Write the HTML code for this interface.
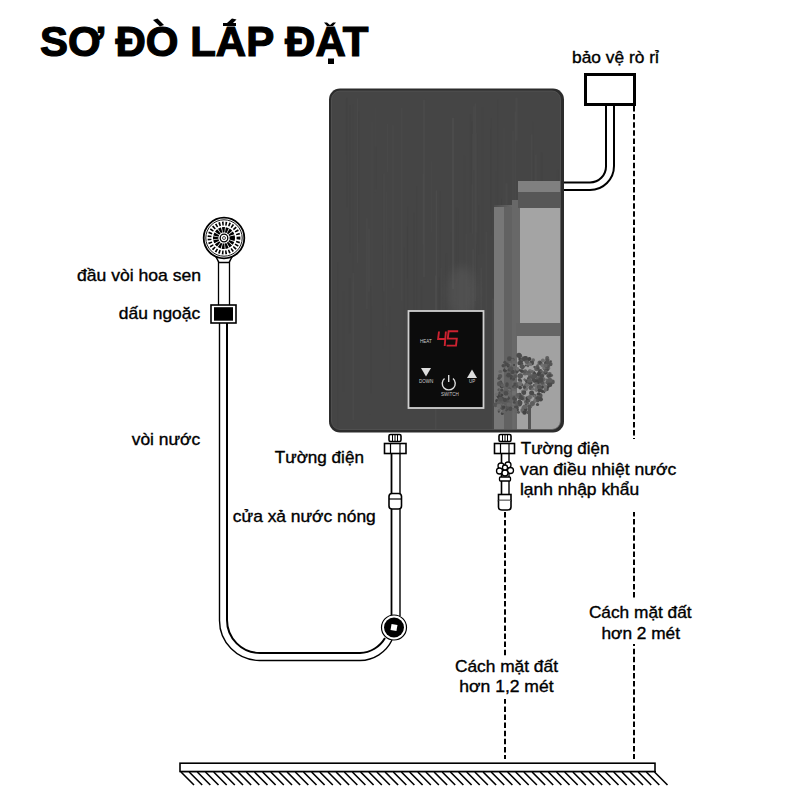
<!DOCTYPE html>
<html><head><meta charset="utf-8">
<style>
html,body{margin:0;padding:0;background:#fff;}
body{width:800px;height:800px;overflow:hidden;position:relative;}
svg{position:absolute;left:0;top:0;}
text{font-family:"Liberation Sans",sans-serif;}
</style></head>
<body>
<svg width="800" height="800" viewBox="0 0 800 800">
<defs>
  <linearGradient id="body" x1="0" y1="0" x2="1" y2="0">
    <stop offset="0" stop-color="#474747"/>
    <stop offset="0.5" stop-color="#4c4c4c"/>
    <stop offset="1" stop-color="#505050"/>
  </linearGradient>
  <clipPath id="hclip"><rect x="331.5" y="91" width="229" height="338.5" rx="8.5"/></clipPath>
  <linearGradient id="reflg" x1="0" y1="0" x2="1" y2="0">
    <stop offset="0" stop-color="#4a4a4a"/>
    <stop offset="0.3" stop-color="#6a6a6a"/>
    <stop offset="1" stop-color="#707070"/>
  </linearGradient>
  <linearGradient id="streakg" x1="0" y1="0" x2="0" y2="1">
    <stop offset="0" stop-color="#4a4a4a"/>
    <stop offset="1" stop-color="#7a7a7a"/>
  </linearGradient>
<filter id="blur4" x="-50%" y="-50%" width="200%" height="200%"><feGaussianBlur stdDeviation="5"/></filter>
</defs>

<!-- Title -->
<text x="40" y="56" font-size="42" font-weight="bold" fill="#000" stroke="#000" stroke-width="1.2">SƠ ĐO LAP ĐAT</text>
<g fill="#000">
<path d="M153 20 L157.5 18.5 L164 25 L160 26.5 Z"/>
<path d="M223 23 L236 23 L236 26 L223 26 Z"/><path d="M227 23 L232 18.5 L236.5 19.5 L232 24 Z"/>
<path d="M324 22.5 L327 22.5 L330 25 L333 22.5 L336 22.5 L333 26 L327 26 Z"/>
<rect x="328" y="58.5" width="6" height="5.5"/>
</g>

<!-- leakage protector -->
<text transform="translate(572,63) scale(1.085,1)" font-size="16" fill="#000" stroke="#000" stroke-width="0.35">bảo vệ rò rỉ</text>
<rect x="585.5" y="74.5" width="49" height="30" fill="#fff" stroke="#000" stroke-width="3"/>
<!-- cable from protector -->
<path d="M563 182.5 H590 A16 16 0 0 0 606 166.5 V106" fill="none" stroke="#000" stroke-width="2"/>
<path d="M563 190 H590 A24 24 0 0 0 614 166 V106" fill="none" stroke="#000" stroke-width="2"/>

<!-- dashed right line -->
<line x1="634" y1="106" x2="634" y2="759" stroke="#000" stroke-width="2" stroke-dasharray="5.5,2.6"/>
<!-- dashed left line -->
<line x1="505" y1="512" x2="505" y2="759" stroke="#000" stroke-width="2" stroke-dasharray="5.5,2.6"/>

<!-- heater body -->
<rect x="329" y="88.5" width="235" height="344" rx="11" fill="#2c2c2c"/>
<rect x="331.5" y="91" width="229" height="338.5" rx="8.5" fill="#454545"/>
<g clip-path="url(#hclip)">
  <rect x="406.5" y="226.7" width="0.8" height="51.6" fill="#3f3f3f" opacity="0.20"/><rect x="346.2" y="97.9" width="1.4" height="109.4" fill="#3f3f3f" opacity="0.18"/><rect x="458.1" y="208.7" width="0.7" height="191.6" fill="#3f3f3f" opacity="0.24"/><rect x="423.0" y="99.8" width="2.2" height="177.4" fill="#585858" opacity="0.21"/><rect x="455.7" y="207.7" width="1.5" height="149.1" fill="#3f3f3f" opacity="0.24"/><rect x="478.0" y="205.0" width="1.2" height="50.0" fill="#3f3f3f" opacity="0.25"/><rect x="445.7" y="253.2" width="1.5" height="114.5" fill="#424242" opacity="0.20"/><rect x="389.4" y="253.8" width="0.9" height="53.1" fill="#585858" opacity="0.23"/><rect x="531.7" y="150.5" width="1.8" height="196.8" fill="#3f3f3f" opacity="0.23"/><rect x="370.4" y="286.0" width="1.1" height="107.5" fill="#3f3f3f" opacity="0.27"/><rect x="463.1" y="155.9" width="2.0" height="151.2" fill="#424242" opacity="0.24"/><rect x="436.6" y="288.4" width="1.9" height="115.9" fill="#3f3f3f" opacity="0.14"/><rect x="492.2" y="298.6" width="1.6" height="171.5" fill="#585858" opacity="0.27"/><rect x="534.4" y="287.5" width="1.2" height="96.9" fill="#3f3f3f" opacity="0.23"/><rect x="382.5" y="245.1" width="1.1" height="103.7" fill="#424242" opacity="0.15"/><rect x="435.0" y="275.5" width="1.5" height="171.1" fill="#585858" opacity="0.26"/><rect x="556.9" y="169.9" width="1.7" height="76.9" fill="#3f3f3f" opacity="0.17"/><rect x="385.7" y="191.8" width="1.0" height="134.3" fill="#585858" opacity="0.18"/><rect x="366.1" y="218.1" width="1.5" height="91.0" fill="#555555" opacity="0.26"/><rect x="450.0" y="232.0" width="1.6" height="48.6" fill="#424242" opacity="0.21"/><rect x="422.5" y="174.1" width="1.4" height="70.5" fill="#555555" opacity="0.22"/><rect x="358.0" y="111.5" width="1.6" height="130.7" fill="#3f3f3f" opacity="0.31"/><rect x="472.3" y="133.7" width="0.7" height="100.2" fill="#585858" opacity="0.31"/><rect x="469.7" y="114.2" width="1.4" height="118.1" fill="#424242" opacity="0.22"/><rect x="403.8" y="247.4" width="0.8" height="158.5" fill="#424242" opacity="0.28"/><rect x="369.6" y="289.7" width="0.6" height="124.5" fill="#555555" opacity="0.26"/><rect x="540.5" y="152.6" width="1.8" height="142.9" fill="#3f3f3f" opacity="0.26"/><rect x="392.3" y="125.1" width="1.2" height="163.5" fill="#585858" opacity="0.25"/><rect x="472.2" y="249.2" width="1.9" height="71.2" fill="#555555" opacity="0.28"/><rect x="501.0" y="198.7" width="1.0" height="96.9" fill="#3f3f3f" opacity="0.32"/><rect x="512.4" y="130.7" width="1.4" height="136.8" fill="#585858" opacity="0.22"/><rect x="545.7" y="290.6" width="2.2" height="98.3" fill="#555555" opacity="0.15"/><rect x="439.7" y="191.4" width="1.1" height="197.6" fill="#3f3f3f" opacity="0.22"/><rect x="481.2" y="107.8" width="1.9" height="145.7" fill="#424242" opacity="0.27"/><rect x="503.3" y="127.5" width="1.4" height="166.3" fill="#585858" opacity="0.15"/><rect x="547.8" y="187.3" width="1.8" height="158.9" fill="#3f3f3f" opacity="0.27"/><rect x="371.6" y="121.7" width="0.8" height="184.8" fill="#555555" opacity="0.24"/><rect x="468.3" y="286.9" width="1.4" height="64.9" fill="#555555" opacity="0.14"/><rect x="514.5" y="111.6" width="1.8" height="159.9" fill="#555555" opacity="0.21"/><rect x="530.9" y="134.3" width="1.9" height="80.3" fill="#585858" opacity="0.23"/><rect x="506.4" y="204.3" width="1.1" height="173.5" fill="#3f3f3f" opacity="0.30"/><rect x="413.3" y="212.5" width="1.3" height="184.7" fill="#424242" opacity="0.28"/><rect x="532.3" y="121.9" width="0.8" height="121.7" fill="#424242" opacity="0.27"/><rect x="471.1" y="121.5" width="1.8" height="62.6" fill="#3f3f3f" opacity="0.23"/><rect x="407.0" y="206.6" width="1.4" height="165.5" fill="#3f3f3f" opacity="0.29"/><rect x="345.9" y="98.9" width="0.9" height="55.6" fill="#424242" opacity="0.23"/><rect x="505.5" y="183.1" width="2.1" height="138.0" fill="#555555" opacity="0.26"/><rect x="435.7" y="190.4" width="1.5" height="190.6" fill="#585858" opacity="0.30"/><rect x="535.7" y="184.0" width="0.9" height="106.7" fill="#424242" opacity="0.22"/><rect x="349.5" y="105.4" width="1.0" height="147.1" fill="#3f3f3f" opacity="0.30"/><rect x="368.1" y="228.7" width="1.7" height="62.9" fill="#555555" opacity="0.31"/><rect x="382.8" y="173.6" width="2.1" height="118.0" fill="#555555" opacity="0.16"/><rect x="431.0" y="161.2" width="1.4" height="71.3" fill="#585858" opacity="0.15"/><rect x="416.1" y="186.3" width="1.1" height="152.5" fill="#424242" opacity="0.19"/><rect x="474.6" y="103.5" width="1.4" height="197.6" fill="#555555" opacity="0.31"/><rect x="356.8" y="98.3" width="1.0" height="164.6" fill="#585858" opacity="0.27"/><rect x="519.1" y="232.0" width="2.0" height="191.4" fill="#424242" opacity="0.16"/><rect x="541.7" y="237.1" width="1.5" height="54.3" fill="#3f3f3f" opacity="0.28"/><rect x="374.6" y="146.5" width="2.0" height="42.7" fill="#3f3f3f" opacity="0.28"/><rect x="352.0" y="104.0" width="2.0" height="178.0" fill="#424242" opacity="0.14"/><rect x="558.7" y="282.2" width="1.3" height="139.5" fill="#3f3f3f" opacity="0.23"/><rect x="387.1" y="123.9" width="0.8" height="48.1" fill="#555555" opacity="0.30"/><rect x="475.7" y="133.2" width="1.4" height="111.3" fill="#555555" opacity="0.18"/><rect x="515.4" y="97.8" width="2.2" height="42.9" fill="#555555" opacity="0.23"/><rect x="388.8" y="228.2" width="1.3" height="144.0" fill="#424242" opacity="0.23"/><rect x="534.7" y="154.6" width="2.2" height="74.4" fill="#555555" opacity="0.20"/><rect x="521.9" y="223.6" width="1.7" height="104.8" fill="#585858" opacity="0.31"/><rect x="523.0" y="221.3" width="0.6" height="180.8" fill="#424242" opacity="0.17"/><rect x="352.2" y="272.8" width="1.9" height="147.3" fill="#585858" opacity="0.24"/><rect x="490.2" y="128.9" width="0.7" height="83.0" fill="#3f3f3f" opacity="0.18"/><rect x="551.3" y="204.9" width="2.2" height="79.1" fill="#585858" opacity="0.18"/><rect x="374.5" y="107.6" width="1.1" height="84.6" fill="#555555" opacity="0.18"/><rect x="509.2" y="261.6" width="0.7" height="63.0" fill="#3f3f3f" opacity="0.21"/><rect x="401.0" y="107.7" width="1.6" height="193.2" fill="#555555" opacity="0.25"/><rect x="495.5" y="171.8" width="2.0" height="92.2" fill="#424242" opacity="0.16"/><rect x="497.4" y="99.2" width="1.6" height="173.6" fill="#424242" opacity="0.27"/><rect x="517.4" y="200.0" width="0.8" height="120.7" fill="#3f3f3f" opacity="0.28"/><rect x="465.6" y="233.4" width="2.0" height="150.9" fill="#555555" opacity="0.15"/><rect x="342.5" y="291.5" width="1.6" height="100.3" fill="#424242" opacity="0.23"/><rect x="475.5" y="232.9" width="1.6" height="118.3" fill="#3f3f3f" opacity="0.22"/><rect x="348.9" y="278.6" width="2.1" height="54.7" fill="#3f3f3f" opacity="0.27"/><rect x="440.6" y="267.7" width="1.9" height="77.6" fill="#555555" opacity="0.18"/><rect x="480.5" y="267.6" width="1.3" height="52.3" fill="#585858" opacity="0.27"/><rect x="473.1" y="106.3" width="1.6" height="63.6" fill="#585858" opacity="0.25"/><rect x="490.3" y="118.0" width="1.6" height="117.2" fill="#424242" opacity="0.18"/><rect x="485.5" y="231.9" width="1.7" height="86.5" fill="#585858" opacity="0.22"/><rect x="438.9" y="277.7" width="0.8" height="71.9" fill="#3f3f3f" opacity="0.30"/><rect x="337.0" y="262.2" width="1.3" height="194.9" fill="#424242" opacity="0.32"/><rect x="420.8" y="285.4" width="2.1" height="51.9" fill="#3f3f3f" opacity="0.16"/><rect x="452.0" y="117.8" width="2.1" height="171.2" fill="#585858" opacity="0.29"/>
  <!-- light water streaks -->
  <ellipse cx="462" cy="292" rx="14" ry="26" fill="#6a6a6a" opacity="0.3" filter="url(#blur4)"/>
  <!-- reflection -->
  <rect x="494" y="205" width="68" height="230" fill="url(#reflg)"/>
  <rect x="494" y="207" width="10" height="226" fill="#777"/>
  <rect x="504" y="207" width="8" height="226" fill="#626262"/>
  <rect x="512" y="200" width="8" height="231" fill="#686868"/>
  <rect x="518" y="181" width="44" height="11" fill="#808080"/>
  <rect x="518" y="192" width="44" height="16" fill="#575757"/>
  <rect x="520" y="208" width="42" height="115" fill="#a4a4a4"/>
  <rect x="516" y="323" width="46" height="13" fill="#656565"/>
  <rect x="517" y="336" width="45" height="96" fill="#a2a2a2"/>
  <!-- tree -->
  <g><circle cx="530.2" cy="406.4" r="2.0" fill="#5d5d5d"/><circle cx="533.2" cy="360.1" r="1.8" fill="#666"/><circle cx="527.1" cy="404.9" r="2.3" fill="#444"/><circle cx="507.3" cy="401.6" r="1.1" fill="#707070"/><circle cx="520.2" cy="356.2" r="2.1" fill="#5d5d5d"/><circle cx="540.6" cy="384.6" r="2.4" fill="#666"/><circle cx="498.1" cy="395.5" r="1.9" fill="#4a4a4a"/><circle cx="537.5" cy="404.5" r="1.6" fill="#4c4c4c"/><circle cx="519.6" cy="376.1" r="2.3" fill="#444"/><circle cx="502.9" cy="391.5" r="1.5" fill="#5d5d5d"/><circle cx="531.4" cy="404.9" r="1.8" fill="#707070"/><circle cx="522.0" cy="411.4" r="1.3" fill="#707070"/><circle cx="536.4" cy="368.9" r="2.2" fill="#666"/><circle cx="526.4" cy="384.4" r="1.9" fill="#666"/><circle cx="525.0" cy="373.1" r="2.5" fill="#666"/><circle cx="507.8" cy="394.8" r="1.7" fill="#5d5d5d"/><circle cx="513.1" cy="404.0" r="1.4" fill="#707070"/><circle cx="536.9" cy="399.1" r="2.6" fill="#5d5d5d"/><circle cx="526.4" cy="385.1" r="2.0" fill="#666"/><circle cx="523.3" cy="408.0" r="1.9" fill="#666"/><circle cx="534.9" cy="401.0" r="2.0" fill="#707070"/><circle cx="532.7" cy="377.2" r="2.0" fill="#555"/><circle cx="520.3" cy="397.3" r="2.5" fill="#4c4c4c"/><circle cx="522.5" cy="366.9" r="2.1" fill="#4a4a4a"/><circle cx="500.7" cy="382.0" r="1.4" fill="#4c4c4c"/><circle cx="537.9" cy="379.5" r="2.4" fill="#5d5d5d"/><circle cx="500.4" cy="384.1" r="2.5" fill="#4c4c4c"/><circle cx="523.3" cy="391.7" r="2.3" fill="#707070"/><circle cx="519.7" cy="377.8" r="1.5" fill="#707070"/><circle cx="519.4" cy="401.1" r="1.7" fill="#4c4c4c"/><circle cx="502.3" cy="402.2" r="2.0" fill="#4c4c4c"/><circle cx="540.6" cy="382.3" r="1.8" fill="#555"/><circle cx="532.4" cy="403.6" r="2.5" fill="#5d5d5d"/><circle cx="530.9" cy="387.4" r="2.3" fill="#707070"/><circle cx="528.3" cy="400.0" r="2.2" fill="#5d5d5d"/><circle cx="500.7" cy="371.5" r="1.5" fill="#666"/><circle cx="512.4" cy="379.1" r="2.2" fill="#5d5d5d"/><circle cx="510.7" cy="358.1" r="1.0" fill="#666"/><circle cx="514.5" cy="398.3" r="2.5" fill="#5d5d5d"/><circle cx="519.3" cy="404.1" r="2.5" fill="#4c4c4c"/><circle cx="524.9" cy="391.9" r="1.2" fill="#444"/><circle cx="506.6" cy="364.3" r="1.1" fill="#444"/><circle cx="515.2" cy="376.2" r="1.9" fill="#555"/><circle cx="502.0" cy="402.1" r="2.0" fill="#4c4c4c"/><circle cx="525.9" cy="401.9" r="2.1" fill="#666"/><circle cx="520.8" cy="361.7" r="1.8" fill="#4a4a4a"/><circle cx="523.2" cy="358.6" r="1.0" fill="#5d5d5d"/><circle cx="530.0" cy="370.8" r="1.9" fill="#707070"/><circle cx="517.1" cy="370.4" r="2.1" fill="#555"/><circle cx="519.7" cy="370.2" r="1.2" fill="#4a4a4a"/><circle cx="530.6" cy="375.5" r="1.8" fill="#666"/><circle cx="501.9" cy="386.4" r="1.9" fill="#444"/><circle cx="499.5" cy="383.7" r="2.5" fill="#555"/><circle cx="515.1" cy="407.9" r="2.2" fill="#4c4c4c"/><circle cx="539.9" cy="395.6" r="2.6" fill="#555"/><circle cx="537.9" cy="394.7" r="1.7" fill="#707070"/><circle cx="525.8" cy="388.7" r="2.3" fill="#707070"/><circle cx="536.9" cy="382.0" r="2.5" fill="#4a4a4a"/><circle cx="510.2" cy="369.3" r="1.8" fill="#5d5d5d"/><circle cx="524.5" cy="379.4" r="1.0" fill="#4a4a4a"/><circle cx="509.1" cy="391.0" r="2.1" fill="#707070"/><circle cx="507.1" cy="396.1" r="2.3" fill="#5d5d5d"/><circle cx="507.4" cy="398.8" r="2.0" fill="#4a4a4a"/><circle cx="534.3" cy="395.6" r="1.8" fill="#4a4a4a"/><circle cx="511.2" cy="376.5" r="1.7" fill="#4a4a4a"/><circle cx="521.1" cy="360.5" r="2.4" fill="#4a4a4a"/><circle cx="525.3" cy="371.1" r="1.8" fill="#5d5d5d"/><circle cx="505.8" cy="400.4" r="2.3" fill="#4a4a4a"/><circle cx="521.9" cy="384.8" r="1.5" fill="#555"/><circle cx="534.4" cy="367.1" r="1.1" fill="#4c4c4c"/><circle cx="531.6" cy="392.9" r="2.5" fill="#4a4a4a"/><circle cx="519.0" cy="355.3" r="2.6" fill="#4c4c4c"/><circle cx="516.9" cy="372.0" r="1.5" fill="#4a4a4a"/><circle cx="510.9" cy="378.6" r="1.1" fill="#444"/><circle cx="514.7" cy="398.6" r="2.4" fill="#4c4c4c"/><circle cx="533.8" cy="372.4" r="1.4" fill="#4a4a4a"/><circle cx="517.5" cy="403.2" r="2.5" fill="#5d5d5d"/><circle cx="506.7" cy="396.8" r="2.1" fill="#4a4a4a"/><circle cx="526.8" cy="401.5" r="1.4" fill="#4c4c4c"/><circle cx="531.0" cy="382.8" r="1.6" fill="#4a4a4a"/><circle cx="538.5" cy="375.0" r="1.0" fill="#666"/><circle cx="506.7" cy="375.9" r="1.7" fill="#5d5d5d"/><circle cx="520.1" cy="387.6" r="1.9" fill="#444"/><circle cx="530.3" cy="382.8" r="1.6" fill="#444"/><circle cx="514.0" cy="393.0" r="2.3" fill="#707070"/><circle cx="500.0" cy="396.4" r="1.5" fill="#5d5d5d"/><circle cx="505.4" cy="397.8" r="1.4" fill="#707070"/><circle cx="528.2" cy="364.5" r="1.7" fill="#707070"/><circle cx="538.2" cy="387.5" r="1.1" fill="#707070"/><circle cx="519.6" cy="358.9" r="1.3" fill="#444"/><circle cx="502.6" cy="385.4" r="1.9" fill="#5d5d5d"/><circle cx="498.9" cy="389.8" r="1.5" fill="#555"/><circle cx="527.3" cy="398.2" r="2.0" fill="#444"/><circle cx="524.9" cy="379.9" r="1.1" fill="#666"/><circle cx="537.8" cy="400.8" r="1.6" fill="#555"/><circle cx="524.3" cy="387.1" r="1.8" fill="#4a4a4a"/><circle cx="523.7" cy="366.6" r="1.1" fill="#4c4c4c"/><circle cx="536.0" cy="375.7" r="1.7" fill="#4a4a4a"/><circle cx="528.1" cy="412.5" r="1.7" fill="#555"/><circle cx="525.2" cy="372.7" r="1.1" fill="#555"/><circle cx="505.0" cy="370.2" r="2.0" fill="#444"/><circle cx="515.8" cy="364.6" r="1.3" fill="#707070"/><circle cx="516.9" cy="386.5" r="1.4" fill="#444"/><circle cx="524.3" cy="410.9" r="2.4" fill="#666"/><circle cx="513.6" cy="378.9" r="1.5" fill="#4c4c4c"/><circle cx="541.7" cy="374.6" r="2.3" fill="#444"/><circle cx="528.5" cy="378.5" r="1.4" fill="#444"/><circle cx="520.7" cy="360.9" r="1.3" fill="#666"/><circle cx="504.6" cy="384.9" r="1.4" fill="#666"/><circle cx="500.1" cy="376.1" r="2.2" fill="#555"/><circle cx="529.9" cy="377.1" r="2.0" fill="#555"/><circle cx="499.0" cy="378.3" r="1.6" fill="#4c4c4c"/><circle cx="542.9" cy="383.9" r="2.5" fill="#707070"/><circle cx="539.3" cy="389.0" r="1.3" fill="#444"/><circle cx="524.1" cy="406.3" r="1.6" fill="#666"/><circle cx="517.2" cy="396.5" r="2.1" fill="#666"/><circle cx="506.7" cy="364.6" r="2.2" fill="#4a4a4a"/><circle cx="522.4" cy="397.5" r="2.3" fill="#4c4c4c"/><circle cx="507.7" cy="386.0" r="1.9" fill="#5d5d5d"/><circle cx="525.8" cy="410.6" r="1.5" fill="#5d5d5d"/><circle cx="526.7" cy="360.7" r="2.2" fill="#4c4c4c"/><circle cx="509.2" cy="398.2" r="1.0" fill="#4a4a4a"/><circle cx="528.7" cy="372.9" r="2.3" fill="#5d5d5d"/><circle cx="523.7" cy="398.5" r="2.2" fill="#707070"/><circle cx="521.9" cy="360.5" r="1.0" fill="#707070"/><circle cx="529.3" cy="397.8" r="1.6" fill="#666"/><circle cx="507.2" cy="368.2" r="2.1" fill="#707070"/><circle cx="519.7" cy="394.7" r="2.0" fill="#4a4a4a"/><circle cx="524.3" cy="358.8" r="2.5" fill="#4c4c4c"/><circle cx="508.6" cy="375.2" r="2.4" fill="#4a4a4a"/><circle cx="513.2" cy="407.3" r="1.2" fill="#707070"/><circle cx="527.1" cy="381.2" r="2.0" fill="#4a4a4a"/><circle cx="522.2" cy="398.4" r="1.8" fill="#4a4a4a"/><circle cx="515.7" cy="385.2" r="2.4" fill="#4a4a4a"/><circle cx="517.7" cy="384.6" r="2.3" fill="#555"/><circle cx="538.7" cy="393.9" r="1.7" fill="#444"/><circle cx="520.7" cy="361.7" r="1.8" fill="#4a4a4a"/><circle cx="522.2" cy="410.0" r="1.8" fill="#666"/><circle cx="534.3" cy="380.7" r="2.0" fill="#4a4a4a"/><circle cx="528.6" cy="381.6" r="1.6" fill="#5d5d5d"/><circle cx="509.3" cy="369.7" r="1.8" fill="#4c4c4c"/><circle cx="509.3" cy="390.4" r="2.4" fill="#5d5d5d"/><circle cx="531.7" cy="363.0" r="2.4" fill="#4a4a4a"/><circle cx="534.4" cy="395.9" r="1.3" fill="#707070"/><circle cx="517.4" cy="409.7" r="1.5" fill="#444"/><circle cx="509.6" cy="388.6" r="1.0" fill="#4c4c4c"/><circle cx="526.5" cy="373.5" r="1.2" fill="#666"/><circle cx="508.2" cy="366.4" r="1.2" fill="#444"/><circle cx="525.8" cy="409.0" r="1.9" fill="#444"/><circle cx="522.1" cy="371.2" r="1.9" fill="#4c4c4c"/><circle cx="525.2" cy="406.8" r="2.3" fill="#666"/><circle cx="513.1" cy="359.4" r="1.6" fill="#555"/><circle cx="526.9" cy="361.7" r="2.4" fill="#5d5d5d"/><circle cx="536.6" cy="389.5" r="2.4" fill="#707070"/><circle cx="525.8" cy="365.5" r="1.1" fill="#4a4a4a"/><circle cx="540.7" cy="399.2" r="2.2" fill="#4a4a4a"/><circle cx="518.4" cy="412.2" r="1.5" fill="#555"/><circle cx="510.0" cy="364.2" r="1.6" fill="#707070"/><circle cx="517.8" cy="394.8" r="1.9" fill="#5d5d5d"/><circle cx="510.3" cy="408.8" r="2.2" fill="#4c4c4c"/><circle cx="514.3" cy="402.4" r="1.4" fill="#4a4a4a"/><circle cx="509.2" cy="390.1" r="1.6" fill="#707070"/><circle cx="528.0" cy="366.0" r="1.2" fill="#5d5d5d"/><circle cx="524.5" cy="412.6" r="2.2" fill="#444"/><circle cx="506.8" cy="385.6" r="1.5" fill="#4c4c4c"/><circle cx="520.4" cy="380.9" r="1.8" fill="#4c4c4c"/><circle cx="530.9" cy="387.7" r="2.4" fill="#555"/><circle cx="541.0" cy="387.2" r="2.4" fill="#5d5d5d"/><circle cx="520.1" cy="402.9" r="2.4" fill="#4c4c4c"/><circle cx="516.5" cy="407.7" r="2.3" fill="#4a4a4a"/><circle cx="513.8" cy="393.3" r="1.6" fill="#707070"/><circle cx="512.6" cy="371.9" r="2.2" fill="#4a4a4a"/><circle cx="509.4" cy="358.7" r="2.4" fill="#4c4c4c"/><circle cx="517.4" cy="368.8" r="1.9" fill="#707070"/><circle cx="529.7" cy="383.2" r="1.6" fill="#4a4a4a"/><circle cx="499.7" cy="371.5" r="1.3" fill="#666"/><circle cx="521.2" cy="370.7" r="1.2" fill="#444"/><circle cx="537.1" cy="368.1" r="2.6" fill="#5d5d5d"/><circle cx="508.6" cy="365.1" r="1.3" fill="#4c4c4c"/><circle cx="511.2" cy="368.7" r="2.1" fill="#555"/><circle cx="522.2" cy="363.6" r="1.1" fill="#4a4a4a"/><circle cx="527.3" cy="385.2" r="1.7" fill="#707070"/><circle cx="513.5" cy="386.4" r="1.5" fill="#4c4c4c"/><circle cx="507.0" cy="383.9" r="1.7" fill="#4a4a4a"/><circle cx="514.6" cy="410.4" r="2.5" fill="#666"/><circle cx="530.6" cy="396.8" r="2.1" fill="#707070"/><circle cx="525.8" cy="357.9" r="1.7" fill="#555"/><circle cx="529.1" cy="374.5" r="1.6" fill="#666"/><circle cx="506.9" cy="409.0" r="1.6" fill="#4a4a4a"/><circle cx="523.9" cy="392.7" r="2.3" fill="#4c4c4c"/><circle cx="534.0" cy="385.4" r="1.3" fill="#555"/><circle cx="514.1" cy="365.0" r="1.1" fill="#444"/><circle cx="528.4" cy="405.1" r="1.9" fill="#707070"/><circle cx="529.4" cy="397.3" r="2.1" fill="#666"/><circle cx="520.5" cy="375.7" r="2.5" fill="#555"/><circle cx="508.3" cy="394.0" r="2.2" fill="#5d5d5d"/><circle cx="525.7" cy="358.2" r="2.2" fill="#4a4a4a"/><circle cx="532.7" cy="389.2" r="1.4" fill="#707070"/><circle cx="499.5" cy="396.4" r="2.6" fill="#444"/><circle cx="503.2" cy="365.8" r="1.7" fill="#4a4a4a"/><circle cx="512.5" cy="360.1" r="1.3" fill="#666"/><circle cx="515.0" cy="387.5" r="1.6" fill="#5d5d5d"/><circle cx="537.5" cy="397.9" r="1.8" fill="#4c4c4c"/><circle cx="529.4" cy="358.9" r="2.0" fill="#444"/><circle cx="519.3" cy="379.8" r="1.5" fill="#4c4c4c"/><circle cx="519.8" cy="383.7" r="2.4" fill="#707070"/><circle cx="542.5" cy="376.0" r="1.7" fill="#666"/><circle cx="500.1" cy="401.3" r="2.4" fill="#707070"/><circle cx="500.6" cy="394.5" r="1.3" fill="#555"/><circle cx="504.8" cy="362.3" r="1.5" fill="#4c4c4c"/><circle cx="528.3" cy="401.2" r="1.5" fill="#555"/><circle cx="521.8" cy="366.3" r="2.2" fill="#555"/><circle cx="514.7" cy="383.6" r="1.1" fill="#4c4c4c"/><circle cx="532.4" cy="371.9" r="1.8" fill="#666"/><circle cx="530.1" cy="364.2" r="1.8" fill="#707070"/><circle cx="526.2" cy="406.3" r="1.5" fill="#666"/><circle cx="519.5" cy="363.1" r="2.2" fill="#4a4a4a"/><circle cx="537.9" cy="368.2" r="1.3" fill="#4c4c4c"/><circle cx="537.3" cy="381.8" r="2.4" fill="#444"/><circle cx="529.7" cy="380.5" r="2.3" fill="#5d5d5d"/><circle cx="536.5" cy="383.4" r="1.4" fill="#555"/><circle cx="549.6" cy="384.5" r="2.3" fill="#444"/><circle cx="547.3" cy="368.2" r="1.1" fill="#666"/><circle cx="543.5" cy="379.5" r="2.2" fill="#666"/><circle cx="551.7" cy="375.4" r="1.4" fill="#5d5d5d"/><circle cx="539.8" cy="362.9" r="2.4" fill="#5d5d5d"/><circle cx="542.4" cy="391.3" r="1.7" fill="#444"/><circle cx="540.6" cy="362.7" r="1.7" fill="#4a4a4a"/><circle cx="540.2" cy="371.2" r="2.2" fill="#4a4a4a"/><circle cx="547.4" cy="369.2" r="1.9" fill="#4c4c4c"/><circle cx="548.6" cy="381.5" r="1.6" fill="#555"/><circle cx="536.0" cy="375.9" r="1.4" fill="#4c4c4c"/><circle cx="547.7" cy="375.9" r="1.3" fill="#555"/><circle cx="537.7" cy="365.4" r="1.3" fill="#666"/><circle cx="546.6" cy="388.9" r="2.2" fill="#4a4a4a"/><circle cx="541.5" cy="376.2" r="1.1" fill="#4a4a4a"/><circle cx="533.8" cy="379.8" r="2.0" fill="#4c4c4c"/><circle cx="548.9" cy="375.6" r="1.5" fill="#707070"/><circle cx="546.9" cy="379.7" r="1.3" fill="#666"/><circle cx="537.2" cy="386.7" r="1.3" fill="#707070"/><circle cx="548.7" cy="375.8" r="2.1" fill="#4c4c4c"/><circle cx="537.4" cy="366.5" r="1.2" fill="#555"/><circle cx="552.5" cy="381.9" r="2.3" fill="#555"/><circle cx="534.5" cy="373.7" r="1.8" fill="#444"/><circle cx="546.6" cy="363.8" r="1.1" fill="#707070"/><circle cx="550.2" cy="376.2" r="1.4" fill="#555"/><circle cx="540.0" cy="377.5" r="2.3" fill="#5d5d5d"/><circle cx="536.5" cy="385.7" r="2.3" fill="#707070"/><circle cx="541.4" cy="390.3" r="1.1" fill="#4c4c4c"/><circle cx="541.6" cy="375.1" r="2.3" fill="#4a4a4a"/><circle cx="538.6" cy="374.5" r="1.4" fill="#666"/><circle cx="544.8" cy="368.0" r="2.2" fill="#4a4a4a"/><circle cx="544.1" cy="368.3" r="1.5" fill="#707070"/><circle cx="545.2" cy="386.9" r="2.3" fill="#707070"/><circle cx="546.7" cy="366.2" r="1.0" fill="#4a4a4a"/><circle cx="547.4" cy="382.5" r="2.1" fill="#5d5d5d"/><circle cx="549.5" cy="374.4" r="2.3" fill="#5d5d5d"/><circle cx="540.7" cy="384.7" r="1.4" fill="#707070"/><circle cx="545.5" cy="372.5" r="2.2" fill="#444"/><circle cx="545.4" cy="390.1" r="1.8" fill="#666"/><circle cx="540.4" cy="381.1" r="1.8" fill="#4c4c4c"/><circle cx="549.7" cy="384.5" r="2.5" fill="#4a4a4a"/><circle cx="549.8" cy="375.4" r="1.7" fill="#4c4c4c"/><circle cx="544.2" cy="392.3" r="1.0" fill="#4a4a4a"/><circle cx="542.7" cy="374.4" r="2.0" fill="#666"/><circle cx="541.5" cy="371.3" r="1.2" fill="#5d5d5d"/><circle cx="542.4" cy="382.8" r="1.9" fill="#555"/><circle cx="549.3" cy="368.3" r="1.1" fill="#707070"/><circle cx="545.5" cy="371.2" r="1.8" fill="#5d5d5d"/><circle cx="540.8" cy="379.8" r="2.6" fill="#4a4a4a"/><circle cx="542.1" cy="375.9" r="1.9" fill="#4c4c4c"/><circle cx="549.8" cy="380.3" r="2.5" fill="#5d5d5d"/><circle cx="539.7" cy="390.3" r="2.1" fill="#444"/><circle cx="538.5" cy="374.0" r="2.0" fill="#444"/><circle cx="542.6" cy="387.0" r="1.3" fill="#444"/><circle cx="548.2" cy="387.1" r="1.3" fill="#444"/><circle cx="546.4" cy="367.9" r="1.3" fill="#666"/><circle cx="534.2" cy="376.0" r="2.6" fill="#555"/><circle cx="535.7" cy="383.3" r="1.1" fill="#666"/><circle cx="539.1" cy="387.0" r="2.3" fill="#555"/><circle cx="550.4" cy="364.1" r="2.2" fill="#555"/><circle cx="546.2" cy="366.1" r="1.3" fill="#4c4c4c"/><circle cx="547.2" cy="358.0" r="2.0" fill="#5d5d5d"/><circle cx="547.9" cy="361.4" r="1.8" fill="#5d5d5d"/><circle cx="550.8" cy="361.4" r="1.1" fill="#4c4c4c"/><circle cx="545.9" cy="363.0" r="2.0" fill="#4a4a4a"/><circle cx="542.9" cy="360.4" r="2.0" fill="#707070"/><circle cx="547.5" cy="366.6" r="2.4" fill="#555"/><circle cx="547.8" cy="362.6" r="2.0" fill="#555"/><circle cx="541.7" cy="364.4" r="1.5" fill="#5d5d5d"/><circle cx="542.8" cy="365.4" r="2.0" fill="#707070"/><circle cx="547.7" cy="359.6" r="1.9" fill="#707070"/><circle cx="545.6" cy="365.6" r="2.0" fill="#666"/><circle cx="547.2" cy="360.0" r="2.0" fill="#555"/><circle cx="503.4" cy="401.1" r="2.0" fill="#666"/><circle cx="508.3" cy="402.2" r="1.8" fill="#5d5d5d"/><circle cx="497.5" cy="402.9" r="2.3" fill="#666"/><circle cx="496.9" cy="404.5" r="1.4" fill="#666"/><circle cx="507.0" cy="392.8" r="1.1" fill="#5d5d5d"/><circle cx="507.4" cy="407.1" r="1.8" fill="#555"/><circle cx="502.3" cy="413.5" r="1.5" fill="#444"/><circle cx="502.7" cy="407.7" r="2.3" fill="#4c4c4c"/><circle cx="507.2" cy="403.3" r="2.2" fill="#555"/><circle cx="495.6" cy="404.8" r="2.4" fill="#555"/><circle cx="501.1" cy="390.8" r="2.3" fill="#666"/><circle cx="505.4" cy="410.0" r="1.4" fill="#666"/><circle cx="496.8" cy="400.7" r="1.6" fill="#444"/><circle cx="501.1" cy="404.3" r="1.7" fill="#666"/><circle cx="506.8" cy="392.0" r="2.6" fill="#5d5d5d"/><circle cx="499.6" cy="405.2" r="1.3" fill="#555"/><circle cx="496.5" cy="394.5" r="1.8" fill="#707070"/><circle cx="501.0" cy="406.8" r="1.9" fill="#555"/><circle cx="502.1" cy="398.8" r="2.1" fill="#444"/><circle cx="498.9" cy="406.0" r="2.3" fill="#707070"/><circle cx="506.3" cy="410.3" r="1.1" fill="#4c4c4c"/><circle cx="503.5" cy="411.5" r="1.7" fill="#666"/><circle cx="501.7" cy="394.9" r="1.3" fill="#5d5d5d"/><circle cx="505.2" cy="400.4" r="2.4" fill="#5d5d5d"/><circle cx="501.8" cy="401.5" r="1.8" fill="#5d5d5d"/><circle cx="505.9" cy="396.4" r="2.2" fill="#707070"/><circle cx="504.9" cy="400.0" r="2.2" fill="#4a4a4a"/><circle cx="499.0" cy="410.2" r="1.5" fill="#666"/><circle cx="509.0" cy="393.9" r="2.4" fill="#666"/><circle cx="505.8" cy="403.3" r="1.6" fill="#5d5d5d"/><circle cx="508.6" cy="404.4" r="2.2" fill="#666"/><circle cx="498.8" cy="402.3" r="2.0" fill="#5d5d5d"/><circle cx="503.3" cy="403.1" r="1.5" fill="#5d5d5d"/><circle cx="499.5" cy="392.8" r="1.1" fill="#4a4a4a"/><circle cx="501.8" cy="390.0" r="1.6" fill="#4a4a4a"/><circle cx="500.6" cy="399.2" r="2.4" fill="#555"/><circle cx="503.6" cy="407.1" r="1.7" fill="#444"/><circle cx="505.9" cy="393.3" r="2.4" fill="#4c4c4c"/><circle cx="498.8" cy="411.7" r="1.0" fill="#4a4a4a"/><circle cx="502.0" cy="395.0" r="1.5" fill="#444"/></g>
  <rect x="528" y="405" width="3" height="26" fill="#555"/><rect x="513" y="410" width="1.5" height="21" fill="#6a6a6a"/>
</g>
<rect x="331.5" y="91" width="229" height="338.5" rx="8.5" fill="none" stroke="#555" stroke-width="0.8"/>

<!-- control panel -->
<rect x="408.5" y="311" width="75" height="97" fill="#0c0c0c" stroke="#d0d0d0" stroke-width="1.8"/>
<text x="420" y="343" font-size="4.5" fill="#ccc">HEAT</text>
<path d="M439 331.5 L438.1 339 H445.5 M445.9 331.5 L444.7 346 M458.2 331.3 H448.6 L447.8 338.6 H456.8 L456 345.6 H446.6" fill="none" stroke="#cc2230" stroke-width="1.9" stroke-linejoin="miter"/>
<path d="M421 368 L431 368 L426 376.5 Z" fill="#ddd"/>
<text x="419" y="383" font-size="4.5" fill="#ccc">DOWN</text>
<path d="M467 378 L477 378 L472 369.5 Z" fill="#ddd"/>
<text x="469" y="383" font-size="4.5" fill="#ccc">UP</text>
<path d="M444.5 378.5 A6.5 6.5 0 1 0 453 378.5" fill="none" stroke="#ddd" stroke-width="1.4"/>
<line x1="448.7" y1="375" x2="448.7" y2="382" stroke="#ddd" stroke-width="1.4"/>
<text x="441" y="396" font-size="4.5" fill="#ccc">SWITCH</text>

<!-- left fitting -->
<rect x="389" y="434.5" width="12" height="7" fill="#fff" stroke="#000" stroke-width="1.6" rx="1.5"/>
<line x1="392.5" y1="435" x2="392.5" y2="441" stroke="#000" stroke-width="1"/>
<line x1="395" y1="435" x2="395" y2="441" stroke="#000" stroke-width="1"/>
<line x1="397.5" y1="435" x2="397.5" y2="441" stroke="#000" stroke-width="1"/>
<rect x="384.5" y="443.5" width="21.5" height="10" fill="#fff" stroke="#000" stroke-width="1.6"/>
<line x1="390.5" y1="443.5" x2="390.5" y2="453.5" stroke="#000" stroke-width="1.2"/>
<line x1="400" y1="443.5" x2="400" y2="453.5" stroke="#000" stroke-width="1.2"/>
<line x1="391.5" y1="454" x2="391.5" y2="618" stroke="#000" stroke-width="1.8"/>
<line x1="400" y1="454" x2="400" y2="616" stroke="#000" stroke-width="1.4"/>
<rect x="389" y="493.5" width="12.5" height="15.5" fill="#fff" stroke="#000" stroke-width="1.6" rx="3"/>
<line x1="389" y1="499" x2="401.5" y2="499" stroke="#000" stroke-width="1.2"/>

<!-- right fitting -->
<rect x="499" y="434.5" width="12" height="7" fill="#fff" stroke="#000" stroke-width="1.6" rx="1.5"/>
<line x1="502.5" y1="435" x2="502.5" y2="441" stroke="#000" stroke-width="1"/>
<line x1="505" y1="435" x2="505" y2="441" stroke="#000" stroke-width="1"/>
<line x1="507.5" y1="435" x2="507.5" y2="441" stroke="#000" stroke-width="1"/>
<rect x="494.5" y="443.5" width="20" height="10" fill="#fff" stroke="#000" stroke-width="1.6"/>
<line x1="500.5" y1="443.5" x2="500.5" y2="453.5" stroke="#000" stroke-width="1.2"/>
<line x1="509" y1="443.5" x2="509" y2="453.5" stroke="#000" stroke-width="1.2"/>
<line x1="501.5" y1="454" x2="501.5" y2="495" stroke="#000" stroke-width="1.6"/>
<line x1="509" y1="454" x2="509" y2="495" stroke="#000" stroke-width="1.4"/>
<g fill="#fff" stroke="#000" stroke-width="1.3">
  <circle cx="501" cy="466" r="3"/>
  <circle cx="508" cy="465" r="3"/>
  <circle cx="499.5" cy="471" r="3"/>
  <circle cx="510.5" cy="470.5" r="3"/>
  <circle cx="505" cy="473" r="3"/>
  <circle cx="505" cy="467.5" r="2.5"/>
</g>
<rect x="499.5" y="477" width="11" height="4" fill="#fff" stroke="#000" stroke-width="1.3" rx="1"/>
<rect x="498.5" y="494.5" width="12.5" height="6" fill="#fff" stroke="#000" stroke-width="1.6"/>
<path d="M498.5 500.5 V507 Q498.5 510 502 510 H507.5 Q511 510 511 507 V500.5" fill="#fff" stroke="#000" stroke-width="1.6"/>

<!-- shower hose -->
<path d="M219.5 323 V620 A40 40 0 0 0 259.5 660.5 H360 A36 36 0 0 0 392 640" fill="none" stroke="#000" stroke-width="1.4"/>
<path d="M227 323 V620 A33 33 0 0 0 260 653 H360 A30 30 0 0 0 385 638" fill="none" stroke="#000" stroke-width="2"/>
<!-- outlet fitting -->
<circle cx="394" cy="627.5" r="12.5" fill="#fff" stroke="#000" stroke-width="1.2"/>
<circle cx="394" cy="627.5" r="10" fill="#000"/>
<rect x="391" y="624.5" width="6" height="6" fill="#fff" transform="rotate(10 394 627.5)"/>

<!-- shower handle -->
<line x1="218.5" y1="258" x2="218.5" y2="305" stroke="#000" stroke-width="1.3"/>
<line x1="229.5" y1="258" x2="229.5" y2="305" stroke="#000" stroke-width="1.3"/>
<!-- bracket -->
<rect x="211" y="305" width="25" height="18" fill="#fff" stroke="#000" stroke-width="1.6"/>
<rect x="214" y="307.2" width="19" height="13.5" fill="#000"/>
<!-- shower head -->
<path d="M215.5 256 L219 262.5 H229 L232.5 256" fill="#fff" stroke="#000" stroke-width="1.5"/>
<circle cx="224" cy="238" r="20.3" fill="#fff" stroke="#000" stroke-width="1.8"/>
<circle cx="224" cy="238" r="18.2" fill="none" stroke="#000" stroke-width="0.9"/>
<circle cx="224" cy="238" r="14.5" fill="none" stroke="#000" stroke-width="3.8" stroke-dasharray="1.6,1.7"/>
<circle cx="224" cy="238" r="8.3" fill="none" stroke="#000" stroke-width="5.4" stroke-dasharray="2.4,0.7"/>
<circle cx="224" cy="238" r="3.8" fill="#fff" stroke="#000" stroke-width="1.3"/>
<circle cx="224" cy="238" r="1.5" fill="none" stroke="#000" stroke-width="0.7"/>

<!-- ground -->
<rect x="180" y="763.2" width="475" height="8.3" fill="#fff" stroke="#000" stroke-width="1.6"/><line x1="180" y1="771.6" x2="656" y2="771.6" stroke="#000" stroke-width="1.4"/>
<g stroke="#000" stroke-width="1.6"><line x1="181.0" y1="772" x2="194.0" y2="785"/><line x1="189.2" y1="772" x2="202.2" y2="785"/><line x1="197.3" y1="772" x2="210.3" y2="785"/><line x1="205.5" y1="772" x2="218.5" y2="785"/><line x1="213.7" y1="772" x2="226.7" y2="785"/><line x1="221.8" y1="772" x2="234.8" y2="785"/><line x1="230.0" y1="772" x2="243.0" y2="785"/><line x1="238.1" y1="772" x2="251.1" y2="785"/><line x1="246.3" y1="772" x2="259.3" y2="785"/><line x1="254.5" y1="772" x2="267.5" y2="785"/><line x1="262.6" y1="772" x2="275.6" y2="785"/><line x1="270.8" y1="772" x2="283.8" y2="785"/><line x1="279.0" y1="772" x2="292.0" y2="785"/><line x1="287.1" y1="772" x2="300.1" y2="785"/><line x1="295.3" y1="772" x2="308.3" y2="785"/><line x1="303.5" y1="772" x2="316.5" y2="785"/><line x1="311.6" y1="772" x2="324.6" y2="785"/><line x1="319.8" y1="772" x2="332.8" y2="785"/><line x1="328.0" y1="772" x2="341.0" y2="785"/><line x1="336.1" y1="772" x2="349.1" y2="785"/><line x1="344.3" y1="772" x2="357.3" y2="785"/><line x1="352.4" y1="772" x2="365.4" y2="785"/><line x1="360.6" y1="772" x2="373.6" y2="785"/><line x1="368.8" y1="772" x2="381.8" y2="785"/><line x1="376.9" y1="772" x2="389.9" y2="785"/><line x1="385.1" y1="772" x2="398.1" y2="785"/><line x1="393.3" y1="772" x2="406.3" y2="785"/><line x1="401.4" y1="772" x2="414.4" y2="785"/><line x1="409.6" y1="772" x2="422.6" y2="785"/><line x1="417.8" y1="772" x2="430.8" y2="785"/><line x1="425.9" y1="772" x2="438.9" y2="785"/><line x1="434.1" y1="772" x2="447.1" y2="785"/><line x1="442.2" y1="772" x2="455.2" y2="785"/><line x1="450.4" y1="772" x2="463.4" y2="785"/><line x1="458.6" y1="772" x2="471.6" y2="785"/><line x1="466.7" y1="772" x2="479.7" y2="785"/><line x1="474.9" y1="772" x2="487.9" y2="785"/><line x1="483.1" y1="772" x2="496.1" y2="785"/><line x1="491.2" y1="772" x2="504.2" y2="785"/><line x1="499.4" y1="772" x2="512.4" y2="785"/><line x1="507.6" y1="772" x2="520.6" y2="785"/><line x1="515.7" y1="772" x2="528.7" y2="785"/><line x1="523.9" y1="772" x2="536.9" y2="785"/><line x1="532.1" y1="772" x2="545.1" y2="785"/><line x1="540.2" y1="772" x2="553.2" y2="785"/><line x1="548.4" y1="772" x2="561.4" y2="785"/><line x1="556.5" y1="772" x2="569.5" y2="785"/><line x1="564.7" y1="772" x2="577.7" y2="785"/><line x1="572.9" y1="772" x2="585.9" y2="785"/><line x1="581.0" y1="772" x2="594.0" y2="785"/><line x1="589.2" y1="772" x2="602.2" y2="785"/><line x1="597.4" y1="772" x2="610.4" y2="785"/><line x1="605.5" y1="772" x2="618.5" y2="785"/><line x1="613.7" y1="772" x2="626.7" y2="785"/><line x1="621.9" y1="772" x2="634.9" y2="785"/><line x1="630.0" y1="772" x2="643.0" y2="785"/><line x1="638.2" y1="772" x2="651.2" y2="785"/><line x1="646.3" y1="772" x2="659.3" y2="785"/><line x1="654.5" y1="772" x2="667.5" y2="785"/></g>

<!-- text backgrounds -->
<rect x="585" y="599" width="112" height="45" fill="#fff"/>
<rect x="450" y="656" width="112" height="43" fill="#fff"/>
<rect x="517" y="439" width="164" height="73" fill="#fff"/>

<!-- labels -->
<g font-size="16" fill="#000" stroke="#000" stroke-width="0.35">
<text transform="translate(77,281.3) scale(1.1,1)">đầu vòi hoa sen</text>
<text transform="translate(118.8,318.8) scale(1.09,1)">dấu ngoặc</text>
<text transform="translate(131.7,444.8) scale(1.088,1)">vòi nước</text>
<text transform="translate(274.8,462.7) scale(1.068,1)">Tường điện</text>
<text transform="translate(232.8,521.8) scale(1.087,1)">cửa xả nước nóng</text>
<text transform="translate(520.8,454) scale(1.063,1)">Tường điện</text>
<text transform="translate(520.1,474.5) scale(1.1,1)">van điều nhiệt nước</text>
<text transform="translate(520,495.3) scale(1.09,1)">lạnh nhập khẩu</text>
<text transform="translate(588.9,618) scale(1.08,1)">Cách mặt đất</text>
<text transform="translate(601.5,638.7) scale(1.08,1)">hơn 2 mét</text>
<text transform="translate(454.9,671.5) scale(1.084,1)">Cách mặt đất</text>
<text transform="translate(459.3,691.6) scale(1.096,1)">hơn 1,2 mét</text>
</g>
</svg>
</body></html>
